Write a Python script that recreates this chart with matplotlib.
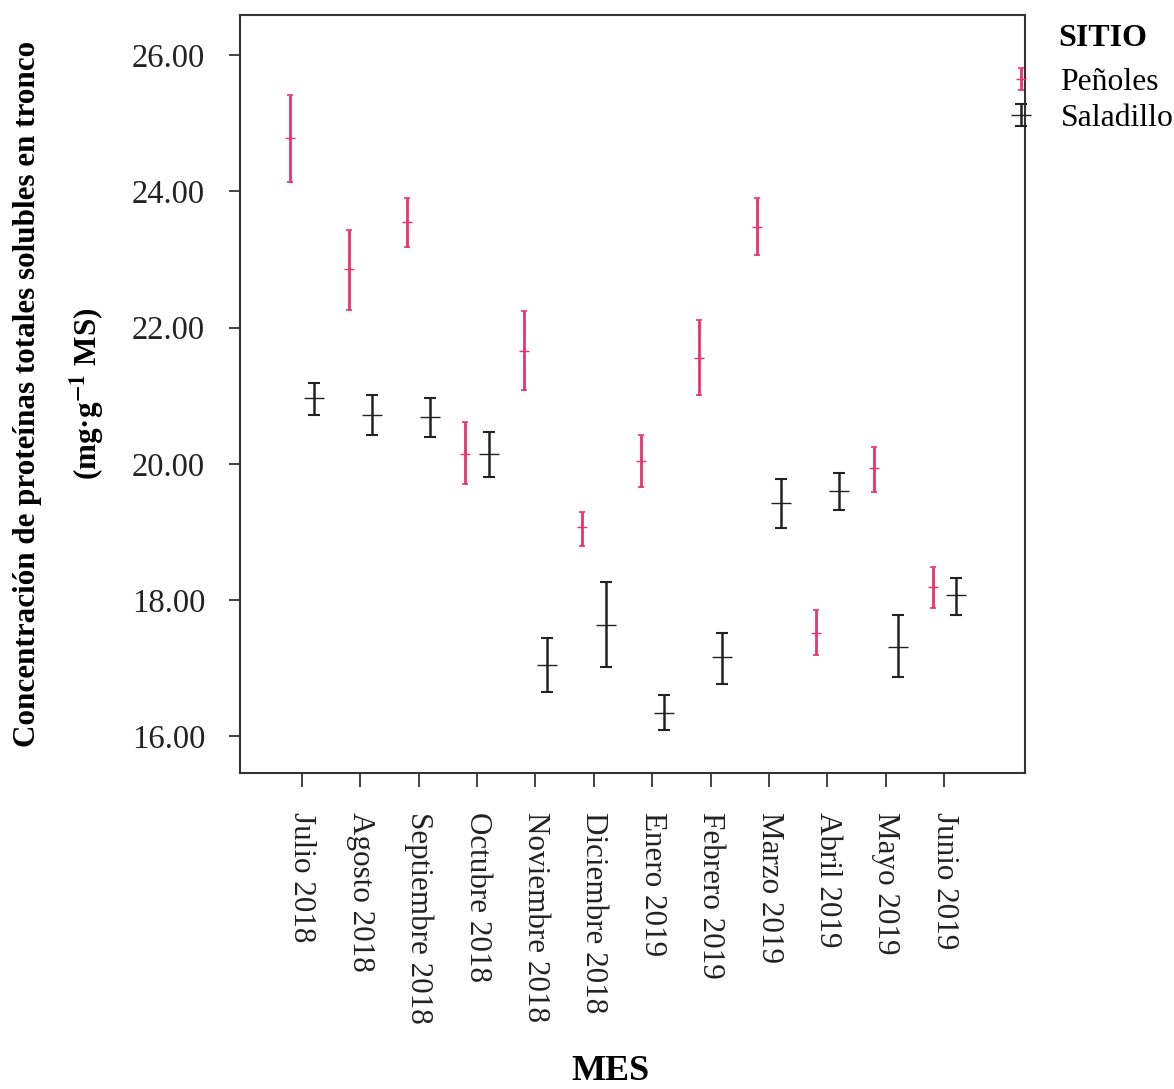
#!/usr/bin/env python3

import numpy as np
import matplotlib.pyplot as plt
from matplotlib.legend_handler import HandlerErrorbar
from matplotlib.container import ErrorbarContainer

meses = ['Julio 2018', 'Agosto 2018', 'Septiembre 2018', 'Octubre 2018',
         'Noviembre 2018', 'Diciembre 2018', 'Enero 2019', 'Febrero 2019',
         'Marzo 2019', 'Abril 2019', 'Mayo 2019', 'Junio 2019']

# Peñoles: mean, lower, upper
pen_mean = [24.78, 22.86, 23.55, 20.15, 21.66, 19.07, 20.04, 21.56, 23.48, 17.52, 19.94, 18.19]
pen_low = [24.14, 22.26, 23.18, 19.70, 21.08, 18.80, 19.66, 21.01, 23.06, 17.19, 19.58, 17.88]
pen_high = [25.41, 23.43, 23.90, 20.61, 22.24, 19.29, 20.42, 22.11, 23.91, 17.85, 20.24, 18.48]

# Saladillo: mean, lower, upper
sal_mean = [20.96, 20.71, 20.68, 20.14, 17.04, 17.63, 16.34, 17.16, 19.42, 19.60, 17.31, 18.07]
sal_low = [20.71, 20.42, 20.39, 19.80, 16.65, 17.01, 16.09, 16.76, 19.05, 19.32, 16.87, 17.78]
sal_high = [21.18, 21.01, 20.96, 20.46, 17.44, 18.26, 16.60, 17.51, 19.77, 19.86, 17.78, 18.33]

PINK = '#e8336e'
DARK = '#222222'


def main():
    plt.rcParams['font.family'] = ['Liberation Serif', 'DejaVu Serif']
    plt.rcParams['mathtext.fontset'] = 'stix'

    fig = plt.figure(figsize=(11.74, 10.89), dpi=100)
    ax = fig.add_axes([0.2044, 0.2902, 0.6686, 0.696])

    x = np.arange(len(meses))
    pm = np.array(pen_mean)
    sm = np.array(sal_mean)
    pen_err = [pm - np.array(pen_low), np.array(pen_high) - pm]
    sal_err = [sm - np.array(sal_low), np.array(sal_high) - sm]

    h1 = ax.errorbar(x - 0.2, pm, yerr=pen_err, fmt='_', color=PINK, ecolor=PINK,
                     elinewidth=2.0, capsize=2, capthick=1.2, markersize=7, label='Peñoles')
    h2 = ax.errorbar(x + 0.2, sm, yerr=sal_err, fmt='_', color=DARK, ecolor=DARK,
                     elinewidth=1.8, capsize=4, capthick=1.5, markersize=14, label='Saladillo')

    ax.set_xlim(-1.06, 12.38)
    ax.set_ylim(15.46, 26.59)
    ax.set_yticks([16, 18, 20, 22, 24, 26])
    ax.set_yticklabels(['%.2f' % v for v in [16, 18, 20, 22, 24, 26]])
    ax.set_xticks(x)
    ax.set_xticklabels(meses, rotation=-90, ha='center', va='top')
    ax.tick_params(axis='both', direction='out', length=8, width=1.2, colors='#222222')
    ax.tick_params(axis='y', pad=17, labelsize=23.5)
    ax.tick_params(axis='x', pad=18, length=10, labelsize=22.4)
    for s in ax.spines.values():
        s.set_linewidth(1.5)
        s.set_color('#333333')

    ax.set_ylabel('Concentración de proteínas totales solubles en tronco\n'
                  r'(mg·g$^{\mathbf{-1}}$ MS)',
                  fontsize=22.4, fontweight='bold', linespacing=1.9)
    ax.yaxis.set_label_coords(-0.169, 0.5)
    fig.text(0.52, 1 - 1072 / 1089, 'MES', fontsize=26, fontweight='bold',
             ha='center', va='center')

    fig.text(1058 / 1174, 1 - 38 / 1089, 'SITIO', fontsize=23, fontweight='bold',
             ha='left', va='center')
    fig.legend(handles=[h1, h2], loc='upper left',
               bbox_to_anchor=(1005 / 1174, 1 - 68 / 1089), frameon=False, fontsize=22.8,
               handlelength=1.0, handletextpad=0.75, borderaxespad=0, borderpad=0,
               labelspacing=0.22,
               handler_map={ErrorbarContainer: HandlerErrorbar(xerr_size=0.3, yerr_size=0.35)})

    fig.savefig('out.png', dpi=100)


if __name__ == "__main__":
    main()
